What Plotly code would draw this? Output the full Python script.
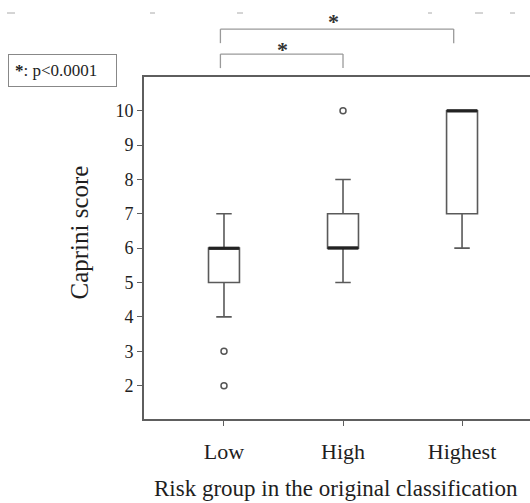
import plotly.graph_objects as go

categories = ["Low", "High", "Highest"]
q1 = [5, 6, 7]
median = [6, 6, 10]
q3 = [6, 7, 10]
lower_whisker = [4, 5, 6]
upper_whisker = [7, 8, 10]
outlier_cats = ["Low", "Low", "High"]
outlier_vals = [3, 2, 10]
y_ticks = [2, 3, 4, 5, 6, 7, 8, 9, 10]

SERIF = "Liberation Serif"
BOX_COLOR = "#5a5a5a"
TXT = "#1e1e1e"

fig = go.Figure()
for i, c in enumerate(categories):
    fig.add_trace(go.Box(
        x=[c], q1=[q1[i]], median=[median[i]], q3=[q3[i]],
        lowerfence=[lower_whisker[i]], upperfence=[upper_whisker[i]],
        width=0.26, whiskerwidth=0.5,
        fillcolor="white", line=dict(color=BOX_COLOR, width=1.6),
        boxpoints=False, showlegend=False, hoverinfo="skip",
    ))

# darker median lines
fig.add_trace(go.Scatter(
    x=categories, y=median, mode="markers",
    marker=dict(symbol="line-ew-open", size=22, color="#222", line=dict(color="#222", width=3)),
    showlegend=False, hoverinfo="skip",
))

fig.add_trace(go.Scatter(
    x=outlier_cats, y=outlier_vals, mode="markers",
    marker=dict(symbol="circle-open", size=6, color="#555", line=dict(width=1.5)),
    showlegend=False, hoverinfo="skip",
))

fig.update_layout(
    width=530, height=503,
    margin=dict(l=144, r=0, t=77, b=84),
    paper_bgcolor="white", plot_bgcolor="white",
    boxmode="overlay",
    font=dict(family=SERIF, color=TXT),
    xaxis=dict(
        type="category", categoryorder="array", categoryarray=categories,
        range=[-0.672, 2.571],
        showline=True, linecolor="#5e5e5e", linewidth=1.6, mirror=True,
        showgrid=False, zeroline=False,
        ticks="outside", ticklen=5, tickcolor="#5e5e5e", tickwidth=1.2,
        tickfont=dict(family=SERIF, size=22, color=TXT),
        ticklabelstandoff=7,
    ),
    yaxis=dict(
        range=[1.03, 10.98],
        tickvals=y_ticks,
        showline=True, linecolor="#5e5e5e", linewidth=1.6,
        showgrid=False, zeroline=False,
        ticks="outside", ticklen=5, tickcolor="#5e5e5e", tickwidth=1.2,
        tickfont=dict(family=SERIF, size=18, color=TXT),
        ticklabelstandoff=0,
    ),
)

# axis titles
fig.add_annotation(text="Caprini score", xref="paper", yref="paper",
                   x=-0.166, y=0.545, xanchor="center", yanchor="middle",
                   textangle=-90, showarrow=False,
                   font=dict(family=SERIF, size=25, color=TXT))
fig.add_annotation(text="Risk group in the original classification", xref="paper", yref="paper",
                   x=0.497, y=-0.202, xanchor="center", yanchor="middle", showarrow=False,
                   font=dict(family=SERIF, size=23, color=TXT))

# legend note
fig.add_annotation(text="<b>*</b>: p<0.0001", xref="paper", yref="paper",
                   x=-0.352, y=1.02, xanchor="left", yanchor="middle", showarrow=False,
                   width=95, align="left",
                   bordercolor="#888", borderwidth=1, borderpad=6, bgcolor="white",
                   font=dict(family=SERIF, size=17, color=TXT))

# significance brackets
BR = "#9a9a9a"
def bracket(x0, x1, ytop, ybot):
    fig.add_shape(type="line", xref="x", yref="paper", x0=x0, x1=x1, y0=ytop, y1=ytop, line=dict(color=BR, width=1.3))
    fig.add_shape(type="line", xref="x", yref="paper", x0=x0, x1=x0, y0=ytop, y1=ybot, line=dict(color=BR, width=1.3))
    fig.add_shape(type="line", xref="x", yref="paper", x0=x1, x1=x1, y0=ytop, y1=ybot, line=dict(color=BR, width=1.3))

bracket(-0.03, 1.93, 1.140, 1.099)
bracket(-0.03, 1.0, 1.067, 1.026)
fig.add_annotation(text="<b>*</b>", xref="x", yref="paper", x=0.92, y=1.162, showarrow=False,
                   yanchor="middle", font=dict(family=SERIF, size=22, color="#333"))
fig.add_annotation(text="<b>*</b>", xref="x", yref="paper", x=0.49, y=1.080, showarrow=False,
                   yanchor="middle", font=dict(family=SERIF, size=22, color="#333"))

# faint residual dashes along the top edge
for xa, xb in [(7, 15), (150, 155), (237, 243), (428, 432), (475, 483), (510, 515)]:
    fig.add_shape(type="line", xref="paper", yref="paper",
                  x0=(xa - 144) / 386, x1=(xb - 144) / 386,
                  y0=(419 - 13) / 342, y1=(419 - 13) / 342,
                  line=dict(color="#aaa", width=1))

fig.write_html("out.html", config={"displayModeBar": False},
               post_script="document.body.style.margin='0';")
